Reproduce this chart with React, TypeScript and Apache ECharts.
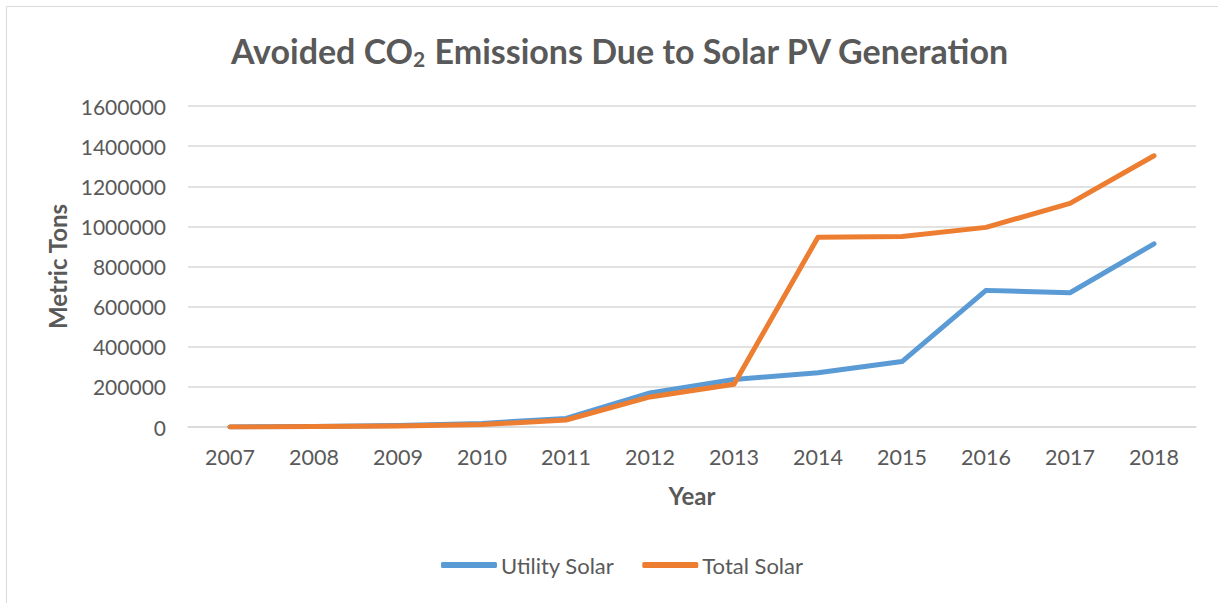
import React, { useEffect, useRef } from "react";
import * as echarts from "echarts";

const years = ["2007", "2008", "2009", "2010", "2011", "2012", "2013", "2014", "2015", "2016", "2017", "2018"];
const utilitySolar = [0, 3000, 7000, 18000, 43000, 170000, 237000, 270000, 326000, 681000, 669000, 913000];
const totalSolar = [0, 2000, 5000, 12000, 35000, 150000, 213000, 946000, 949000, 995000, 1115000, 1352000];
const yTicks = { min: 0, max: 1600000, interval: 200000 };

const FONT = "Lato, 'Open Sans', sans-serif";
const TXT = "#595959";

export default function App() {
  const ref = useRef<HTMLDivElement>(null);
  useEffect(() => {
    if (!ref.current) return;
    const chart = echarts.init(ref.current, null, { renderer: "svg" });
    chart.setOption({
      animation: false,
      backgroundColor: "#ffffff",
      graphic: [
        {
          type: "rect",
          shape: { x: 6.5, y: 6.5, width: 1230, height: 620 },
          style: { fill: "none", stroke: "#D9D9D9", lineWidth: 1 },
          silent: true,
        },
      ],
      title: {
        text: "Avoided CO{sub|2} Emissions Due to Solar PV Generation",
        left: 615,
        textAlign: "center",
        top: 27,
        textStyle: {
          fontFamily: FONT,
          fontSize: 34,
          fontWeight: "bold",
          color: TXT,
          rich: {
            sub: {
              fontFamily: FONT,
              fontSize: 21,
              fontWeight: "bold",
              color: TXT,
              verticalAlign: "bottom",
              padding: [16, 0, 0, 0],
            },
          },
        },
      },
      legend: {
        bottom: 22,
        left: 436,
        itemWidth: 56,
        itemHeight: 6,
        itemGap: 28,
        icon: "roundRect",
        textStyle: { fontFamily: FONT, fontSize: 22, color: TXT, padding: [0, 0, 0, -1] },
        data: ["Utility Solar", "Total Solar"],
      },
      grid: { left: 188, right: 22, top: 106, bottom: 176 },
      xAxis: {
        type: "category",
        data: years,
        boundaryGap: true,
        name: "Year",
        nameLocation: "middle",
        nameGap: 56,
        nameTextStyle: { fontFamily: FONT, fontSize: 24, fontWeight: "bold", color: TXT },
        axisLine: { lineStyle: { color: "#D9D9D9", width: 1.5 } },
        axisTick: { show: false },
        axisLabel: { fontFamily: FONT, fontSize: 21.5, color: TXT, margin: 19 },
      },
      yAxis: {
        type: "value",
        min: yTicks.min,
        max: yTicks.max,
        interval: yTicks.interval,
        name: "Metric Tons",
        nameLocation: "middle",
        nameGap: 116,
        nameTextStyle: { fontFamily: FONT, fontSize: 24, fontWeight: "bold", color: TXT },
        axisLine: { show: false },
        axisTick: { show: false },
        axisLabel: {
          fontFamily: FONT,
          fontSize: 21,
          color: TXT,
          margin: 22,
          formatter: (v: number) => String(v),
        },
        splitLine: { lineStyle: { color: "#D9D9D9", width: 1.5 } },
      },
      series: [
        {
          name: "Utility Solar",
          type: "line",
          data: utilitySolar,
          symbol: "none",
          lineStyle: { color: "#5B9BD5", width: 5, cap: "round", join: "round" },
          itemStyle: { color: "#5B9BD5" },
        },
        {
          name: "Total Solar",
          type: "line",
          data: totalSolar,
          symbol: "none",
          lineStyle: { color: "#ED7D31", width: 5, cap: "round", join: "round" },
          itemStyle: { color: "#ED7D31" },
        },
      ],
    });
    return () => chart.dispose();
  }, []);
  return (
    <div
      ref={ref}
      style={{ position: "absolute", left: 0, top: 0, width: 1218, height: 603 }}
    />
  );
}
